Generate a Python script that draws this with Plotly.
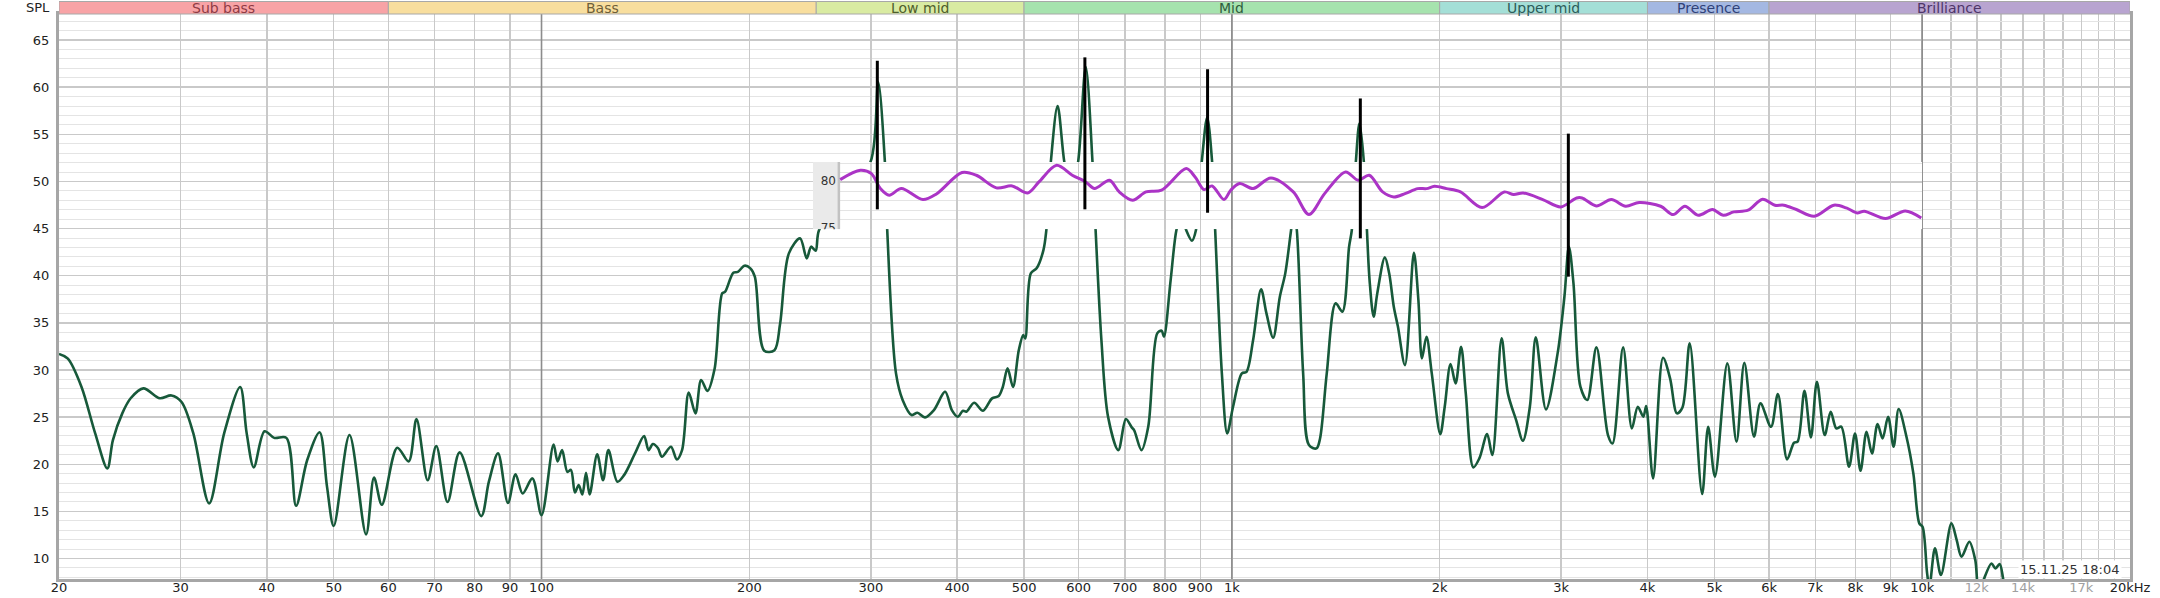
import math
import plotly.graph_objects as go

# ---------------- data ----------------
freq_hz = [
    20.0, 20.6, 21.56, 22.56, 23.5, 23.94, 24.7, 25.4, 26.5, 28.0, 29.1, 30.1, 31.3, 33.0,
    34.7, 36.6, 37.4, 38.3, 39.7, 41.0, 42.7, 44.1, 45.75, 47.7, 48.9, 50.0, 52.7, 55.7,
    57.2, 58.7, 61.8, 64.2, 65.9, 68.4, 70.4, 73.1, 76.1, 81.8, 83.9, 86.5, 89.4, 91.7,
    93.9, 97.0, 100.0, 104.1, 105.5, 107.1, 109.0, 110.3, 111.8, 113.2, 114.6, 116.0,
    117.4, 120.4, 122.8, 125.0, 128.8, 131.7, 136.6, 140.8, 142.9, 145.0, 147.5, 149.4,
    154.0, 157.0, 159.8, 163.4, 167.1, 170.3, 173.9, 178.1, 182.7, 184.5, 189.6, 192.5,
    196.8, 200.7, 203.7, 210.2, 217.5, 221.6, 228.2, 236.9, 242.2, 245.8, 249.5, 252.4,
    275.0, 299.7, 307.3, 314.3, 316.8, 326.2, 333.6, 343.7, 350.4, 359.3, 370.2, 384.3,
    393.0, 400.8, 407.9, 412.5, 423.3, 436.0, 449.4, 459.5, 465.8, 473.3, 481.9, 491.3,
    498.6, 502.0, 511.4, 521.4, 533.4, 538.6, 546.8, 559.2, 571.8, 585.0, 598.9, 614.2,
    628.2, 634.8, 647.2, 661.7, 684.8, 702.3, 716.1, 722.0, 739.8, 756.6, 779.6, 791.1,
    797.3, 815.3, 831.2, 845.0, 858.7, 875.5, 887.2, 904.6, 921.0, 936.2, 945.9, 967.2,
    984.6, 1004, 1034, 1050, 1073.5, 1102.4, 1122.3, 1147.7, 1173.6, 1195, 1218.4, 1230,
    1242, 1268.4, 1293.2, 1326.3, 1342, 1372.4, 1413.8, 1445.8, 1478.5, 1492, 1512.3,
    1530.5, 1553, 1569.2, 1583, 1604.6, 1624, 1665.8, 1690, 1716.2, 1740, 1781.5, 1835.2,
    1863, 1885.1, 1914, 1948, 2004, 2034, 2074, 2109, 2148, 2182, 2238, 2283, 2343, 2384,
    2459, 2511, 2581, 2640, 2702, 2756, 2851, 2964, 3032, 3078, 3125, 3198, 3272, 3374,
    3506, 3560, 3688, 3797, 3873, 3945, 3982, 4075, 4213, 4313, 4413, 4495, 4605, 4800,
    4897, 5009, 5221, 5383, 5525, 5707, 5831, 6040, 6180, 6373, 6521, 6600, 6753, 6900,
    7039, 7224, 7370, 7510, 7634, 7836, 7993, 8141, 8306, 8459, 8617, 8763, 8925, 9092,
    9245, 9489, 9709, 9904, 10012, 10166, 10244, 10435, 10645, 11025, 11220, 11402, 11702,
    11937, 12084, 12596, 12770, 12948, 13249, 14500,
]
spl_db = [
    31.7, 31.2, 28.2, 23.3, 19.56, 22.57, 25.4, 27.0, 28.05, 27.0, 27.3, 26.6, 23.3, 15.85,
    23.3, 28.2, 23.3, 19.67, 23.5, 22.8, 22.8, 15.6, 20.4, 23.4, 17.6, 13.45, 23.1, 12.56,
    18.6, 15.7, 21.75, 20.3, 24.8, 18.3, 21.93, 16.0, 21.26, 14.5, 18.15, 21.15, 15.9, 18.93,
    16.9, 18.5, 14.6, 22.1, 20.3, 21.5, 19.2, 19.4, 17.0, 17.8, 16.8, 19.1,
    16.8, 21.05, 18.3, 21.5, 18.15, 18.85, 21.15, 23.0, 21.5, 22.15, 21.7, 20.8,
    21.86, 20.5, 21.5, 27.6, 25.4, 28.93, 27.77, 30.1, 38.13, 38.3, 40.32, 40.4,
    41.06, 40.78, 39.9, 32.04, 32.1, 34.9, 42.37, 43.96, 41.84, 43.08, 42.65, 44.84,
    48.5, 52.1, 60.58, 52.1, 44.84, 29.64, 26.8, 25.22, 25.47, 24.97, 25.75, 27.7,
    25.75, 25.04, 25.68, 25.57, 26.53, 25.68, 26.99, 27.24, 28.2, 30.17, 28.2, 32.1,
    33.7, 33.35, 40.25, 40.78, 42.72, 44.84, 52.1, 58.0, 52.1, 48.5, 52.1, 62.17,
    52.1, 44.84, 33.17, 25.04, 21.5, 24.8, 23.91, 23.6, 21.5, 23.98, 33.88, 34.17,
    33.53, 39.54, 44.84, 46.5, 44.84, 43.71, 44.84, 52.1, 56.8, 52.1, 44.84, 29.64,
    23.27, 26.1, 29.64, 29.8, 33.17, 38.55, 36.0, 33.42, 37.77, 40.25, 44.84, 47.0,
    44.84, 29.64, 22.04, 21.68, 22.74, 29.64, 37.07, 36.18, 43.08, 44.84, 52.1,
    56.16, 52.1, 44.84, 39.54, 35.65, 38.1, 41.94, 40.25, 36.71, 34.6, 30.52, 42.44,
    37.42, 31.23, 33.53, 29.64, 23.2, 26.1, 30.63, 28.58, 32.47, 27.52, 19.67, 20.62, 23.2, 20.98,
    33.35, 27.52, 24.69, 22.5, 26.1, 33.46, 25.82, 31.76, 37.77, 43.08, 39.19, 28.23, 26.81, 32.4,
    23.1, 22.2, 32.4, 23.8, 26.1, 25.04, 26.17, 18.5, 31.3, 29.11, 25.4, 26.03, 32.82, 16.84,
    23.98, 18.68, 30.7, 22.39, 30.77, 22.92, 26.46, 23.98, 27.45, 20.52, 22.29, 22.4, 27.8, 22.85,
    28.76, 23.1, 25.57, 23.8, 23.98, 19.74, 23.27, 19.31, 23.45, 21.15, 24.27, 22.74, 25.04, 21.86,
    25.86, 22.92, 19.03, 13.73, 13.37, 8.42, 7.0, 11.08, 8.25, 13.73, 11.96, 10.19, 11.78,
    9.84, 6.8, 9.48, 8.95, 9.41, 6.5, 3.0,
]

inset_freq_hz = [
    270.8, 289.6, 300.5, 309.6, 318.9, 332.1, 356.8, 372.9, 406.6, 426.5, 456.0, 480.4,
    506.2, 525.5, 557.5, 587.3, 614.2, 632.6, 664.8, 686.9, 718.2, 751.0, 791.1, 858.7,
    884.6, 911.6, 936.2, 974.1, 996.2, 1026.6, 1073.5, 1139.3, 1227.5, 1293.2, 1362.5,
    1461.3, 1523.6, 1581.4, 1653.6, 1716.2, 1781.5, 1859, 1915, 1966, 2046, 2144, 2304,
    2481, 2560, 2642, 2821, 2994, 3159, 3216, 3373, 3546, 3719, 3891, 4180, 4357, 4532,
    4737, 4968, 5149, 5334, 5595, 5871, 6119, 6303, 6573, 6977, 7448, 7765, 8048, 8242,
    8850, 9451, 9970,
]
inset_spl_db = [
    80.25, 81.24, 80.89, 79.3, 78.59, 79.3, 78.13, 78.7, 81.0, 80.71, 79.37, 79.58,
    78.83, 80.0, 81.77, 80.71, 80.0, 79.3, 80.18, 78.94, 78.06, 78.94, 79.12, 81.42,
    80.53, 79.19, 79.58, 78.13, 79.12, 79.83, 79.3, 80.43, 78.94, 76.54, 78.76,
    81.06, 80.18, 80.71, 78.94, 78.41, 78.76, 79.29, 79.29, 79.54, 79.29, 78.94, 77.28,
    78.94, 78.66, 78.83, 78.13, 77.35, 78.3, 78.3, 77.45, 78.13, 77.42, 77.81, 77.42, 76.53, 77.42,
    76.46, 77.07, 76.46, 76.82, 77.0, 78.16, 77.53, 77.53, 77.07, 76.36, 77.53, 77.24, 76.71, 76.89,
    76.11, 76.92, 76.18,
]

marker_freq_hz = [306.5, 612.5, 922.2, 1535, 3072]
marker_top_db = [62.8, 63.16, 61.9, 58.8, 55.07]
marker_bottom_db = [47.04, 47.04, 46.68, 43.96, 39.9]

band_names = ["Sub bass", "Bass", "Low mid", "Mid", "Upper mid", "Presence", "Brilliance"]
band_edges_hz = [20, 60, 250, 500, 2000, 4000, 6000, 20000]
band_fill = ["#F8A3A6", "#F8DE9E", "#D9EBA2", "#A6E3AE", "#A4DFD7", "#A4B8E2", "#B8A4D0"]
band_text = ["#8E3B44", "#6E5E38", "#4F5E2C", "#2F5E3E", "#2C5C5A", "#2F4178", "#4D3568"]

x_tick_vals = [20, 30, 40, 50, 60, 70, 80, 90, 100, 200, 300, 400, 500, 600, 700, 800, 900,
               1000, 2000, 3000, 4000, 5000, 6000, 7000, 8000, 9000, 10000, 12000, 14000,
               17000, 20000]
x_tick_text = ["20", "30", "40", "50", "60", "70", "80", "90", "100", "200", "300", "400",
               "500", "600", "700", "800", "900", "1k", "2k", "3k", "4k", "5k", "6k", "7k",
               "8k", "9k", "10k", "12k", "14k", "17k", "20kHz"]
x_tick_grey = ["12k", "14k", "17k"]
extra_grid_hz = [11000, 13000, 15000, 16000, 18000, 19000]
decade_grid_hz = [100, 1000, 10000]
inset_tick_db = [80, 75]
timestamp_text = "15.11.25 18:04"

# ---------------- geometry ----------------
W, H = 2160, 598
ML, MR, MT, MB = 59, 30, 14, 19
PLOT_H = H - MT - MB
F_MIN, F_MAX = 20, 20000
SPL_MIN, SPL_MAX = 7.83, 67.76

INSET_F_LO, INSET_F_PLOT, INSET_F_HI = 247.2, 269.6, 10000
INSET_TOP_PX, INSET_BOT_PX = 162, 229.3
INSET_DB_LO, INSET_DB_HI = 74.97, 82.12

LX0, LX1 = math.log10(F_MIN), math.log10(F_MAX)


def xdom(f):
    return (math.log10(f) - LX0) / (LX1 - LX0)


def ydom_px(py):
    return (H - MB - py) / PLOT_H


FONT = "DejaVu Sans"
LIGHT = "#C9C9C9"
MINOR = "#E4E4E4"
DARK = "#8C8C8C"

ticktext = [f'<span style="color:#A0A0A0">{t}</span>' if t in x_tick_grey else t
            for t in x_tick_text]

fig = go.Figure()

fig.add_trace(go.Scatter(
    x=freq_hz, y=spl_db, mode="lines",
    line=dict(color="#17593A", width=2.6, shape="spline", smoothing=0.9),
    xaxis="x", yaxis="y", hoverinfo="skip", showlegend=False))

fig.add_trace(go.Scatter(
    x=inset_freq_hz, y=inset_spl_db, mode="lines",
    line=dict(color="#AB34C6", width=3, shape="spline", smoothing=0.9),
    xaxis="x2", yaxis="y2", hoverinfo="skip", showlegend=False))

fig.add_trace(go.Scatter(
    x=[267] * len(inset_tick_db), y=inset_tick_db, mode="text",
    text=[str(v) for v in inset_tick_db], textposition="middle left",
    textfont=dict(family=FONT, size=12, color="#333333"), cliponaxis=True,
    xaxis="x2", yaxis="y2", hoverinfo="skip", showlegend=False))

mx, my = [], []
for f, b, t in zip(marker_freq_hz, marker_bottom_db, marker_top_db):
    mx += [f, f, None]
    my += [b, t, None]
fig.add_trace(go.Scatter(
    x=mx, y=my, mode="lines", line=dict(color="#000000", width=3),
    xaxis="x3", yaxis="y3", hoverinfo="skip", showlegend=False))

shapes = []
for f in decade_grid_hz:
    shapes.append(dict(type="line", xref="x", yref="y", x0=f, x1=f, y0=SPL_MIN, y1=SPL_MAX,
                       line=dict(color=DARK, width=1.6), layer="between"))
# inset background, strip and darker 1k line
shapes.append(dict(type="rect", xref="x2", yref="y2", x0=INSET_F_LO, x1=INSET_F_HI,
                   y0=INSET_DB_LO, y1=INSET_DB_HI, fillcolor="white", line=dict(width=0),
                   layer="below"))
for f in decade_grid_hz:
    if INSET_F_LO < f < INSET_F_HI:
        shapes.append(dict(type="line", xref="x2", yref="y2", x0=f, x1=f, y0=INSET_DB_LO,
                           y1=INSET_DB_HI, line=dict(color=DARK, width=1.6), layer="between"))
shapes.append(dict(type="rect", xref="x2", yref="y2", x0=INSET_F_LO, x1=INSET_F_PLOT,
                   y0=INSET_DB_LO, y1=INSET_DB_HI, fillcolor="#EAEAEA", line=dict(width=0),
                   layer="between"))
shapes.append(dict(type="line", xref="x2", yref="y2", x0=INSET_F_PLOT, x1=INSET_F_PLOT,
                   y0=INSET_DB_LO, y1=INSET_DB_HI, line=dict(color="#C2C2C2", width=2.5),
                   layer="between"))

# band header
HB0, HB1 = 1.0, ydom_px(1.5)
annotations = []
for name, lo, hi, fc, tc in zip(band_names, band_edges_hz[:-1], band_edges_hz[1:],
                                band_fill, band_text):
    shapes.append(dict(type="rect", xref="x", yref="paper", x0=lo, x1=hi, y0=HB0, y1=HB1,
                       fillcolor=fc, line=dict(color="#A8A8A8", width=1), layer="above"))
    annotations.append(dict(x=(math.log10(lo) + math.log10(hi)) / 2, xref="x",
                            y=(HB0 + HB1) / 2, yref="paper", text=name, showarrow=False,
                            font=dict(family=FONT, size=14, color=tc),
                            xanchor="center", yanchor="middle"))

annotations.append(dict(x=-0.0035, xref="paper", y=ydom_px(7), yref="paper", text="SPL",
                        showarrow=False, xanchor="right", yanchor="middle",
                        font=dict(family=FONT, size=13, color="#222222")))
annotations.append(dict(x=(2122 - ML) / (W - ML - MR), xref="paper", y=ydom_px(569),
                        yref="paper", text=timestamp_text, showarrow=False,
                        xanchor="right", yanchor="middle", bgcolor="white",
                        font=dict(family=FONT, size=13, color="#333333")))

inset_grid = [v for v in x_tick_vals + extra_grid_hz if INSET_F_LO < v < INSET_F_HI]

fig.update_layout(
    width=W, height=H,
    margin=dict(l=ML, r=MR, t=MT, b=MB, pad=0, autoexpand=False),
    paper_bgcolor="white", plot_bgcolor="rgba(0,0,0,0)",
    font=dict(family=FONT, size=13, color="#222222"),
    showlegend=False,
    xaxis=dict(type="log", range=[LX0, LX1], domain=[0, 1], anchor="y", automargin=False,
               tickmode="array", tickvals=x_tick_vals, ticktext=ticktext,
               showgrid=True, gridcolor=LIGHT, gridwidth=1.5, ticks="",
               ticklabelstandoff=-6,
               showline=True, linecolor="#A6A6A6", linewidth=3, mirror=True,
               zeroline=False, tickfont=dict(family=FONT, size=13, color="#222222"),
               minor=dict(tickmode="array", tickvals=extra_grid_hz, showgrid=True,
                          gridcolor=LIGHT, gridwidth=1.5, ticks="")),
    yaxis=dict(range=[SPL_MIN, SPL_MAX], domain=[0, 1], anchor="x", automargin=False,
               tick0=0, dtick=5, showgrid=True, gridcolor=LIGHT, gridwidth=1.5,
               ticks="", ticklabelstandoff=4,
               showline=True, linecolor="#A6A6A6", linewidth=3, mirror=True,
               zeroline=False, tickfont=dict(family=FONT, size=13, color="#222222"),
               minor=dict(tick0=0, dtick=1, showgrid=True, gridcolor=MINOR, gridwidth=1,
                          ticks="")),
    xaxis2=dict(type="log", range=[math.log10(INSET_F_LO), math.log10(INSET_F_HI)],
                domain=[xdom(INSET_F_LO), xdom(INSET_F_HI)], anchor="y2", automargin=False,
                tickmode="array", tickvals=inset_grid, showticklabels=False, ticks="",
                showgrid=True, gridcolor=LIGHT, gridwidth=1.5, showline=False,
                zeroline=False),
    yaxis2=dict(range=[INSET_DB_LO, INSET_DB_HI], automargin=False,
                domain=[ydom_px(INSET_BOT_PX), ydom_px(INSET_TOP_PX)], anchor="x2",
                tick0=0, dtick=5, showgrid=True, gridcolor=LIGHT, gridwidth=1.5,
                showticklabels=False, ticks="", showline=False, zeroline=False,
                minor=dict(tick0=0, dtick=1, showgrid=True, gridcolor=MINOR, gridwidth=1,
                           ticks="")),
    xaxis3=dict(type="log", range=[LX0, LX1], domain=[0, 1], anchor="y3", visible=False,
                automargin=False),
    yaxis3=dict(range=[SPL_MIN, SPL_MAX], domain=[0, 1], anchor="x3", visible=False,
                automargin=False),
    shapes=shapes,
    annotations=annotations,
)

fig.write_html(
    "out.html",
    config={"displayModeBar": False, "staticPlot": True},
    post_script="document.body.style.margin='0';document.body.style.overflow='hidden';",
)
